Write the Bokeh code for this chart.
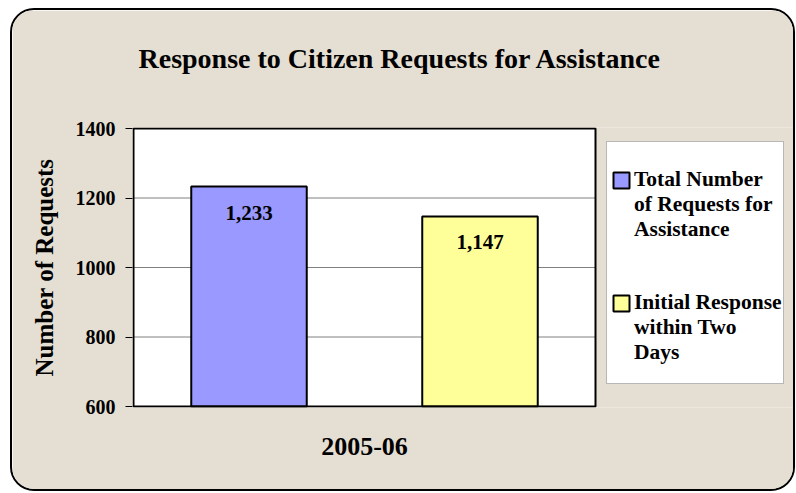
from bokeh.plotting import figure
from bokeh.models import Legend, LegendItem, FixedTicker, Range1d, LinearAxis
from bokeh.core.properties import value
from bokeh.embed import file_html
from bokeh.resources import INLINE

# ---- data ----
title_text = "Response to Citizen Requests for Assistance"
series_names = ["Total Number of Requests for Assistance", "Initial Response within Two Days"]
legend_lines = [["Total Number", "of Requests for", "Assistance"],
                ["Initial Response", "within Two", "Days"]]
values = [1233, 1147]
value_labels = ["1,233", "1,147"]
colors = ["#9999FF", "#FFFF99"]
category = "2005-06"
y_ticks = [600, 800, 1000, 1200, 1400]
y_label = "Number of Requests"

FONT = "Liberation Serif"
W, H = 785, 483
ML, MT, MB = 120, 117, 86          # canvas px around the frame
PLOT_W = 462                        # px width of the white plot area
n = len(values)
x_end_plot = 2 * n
px_per_x = PLOT_W / x_end_plot
pad_px = 1.0
frame_w = W - ML
x_start = -pad_px / px_per_x
x_end = x_start + frame_w / px_per_x
frame_h = H - MT - MB
px_per_y = (frame_h - 2 * pad_px) / (y_ticks[-1] - y_ticks[0])
y_pad = pad_px / px_per_y

p = figure(width=W, height=H, output_backend="svg", toolbar_location=None, title=title_text,
           x_range=Range1d(x_start, x_end),
           y_range=Range1d(y_ticks[0] - y_pad, y_ticks[-1] + y_pad),
           min_border_left=ML, min_border_right=0, min_border_top=MT, min_border_bottom=MB)

BG = "#E5DED2"
p.border_fill_color = BG
p.background_fill_color = BG
p.outline_line_color = None
p.styles = {"border": "2px solid #000", "border-radius": "24px", "overflow": "hidden",
            "margin-left": "10px", "margin-top": "8px"}

# title (outermost above panel) + an invisible axis that acts as a spacer below it
p.title.align = "left"
p.title.offset = 6
p.title.standoff = 0
p.title.text_font = FONT
p.title.text_font_style = "bold"
p.title.text_font_size = "28px"
p.title.text_color = "black"

spacer_axis = LinearAxis(ticker=FixedTicker(ticks=[n]), axis_line_color=None,
                         major_tick_out=54, major_tick_in=0,
                         major_tick_line_color=None, minor_tick_line_color=None,
                         major_label_text_alpha=0)
p.add_layout(spacer_axis, "above")

# plot area + grid
p.quad(left=[0], right=[x_end_plot], bottom=[y_ticks[0]], top=[y_ticks[-1]],
       fill_color="white", line_color=None)
grid_vals = y_ticks[1:-1]
p.segment(x0=[0] * len(grid_vals), x1=[x_end_plot] * len(grid_vals),
          y0=grid_vals, y1=grid_vals, line_color="#808080", line_width=1)

# bars
xs = [1 + 2 * i for i in range(n)]
bars = []
for i, v in enumerate(values):
    r = p.vbar(x=[xs[i]], top=[v], bottom=y_ticks[0], width=1,
               fill_color=colors[i], line_color="black", line_width=2)
    bars.append(r)

p.quad(left=[0], right=[x_end_plot], bottom=[y_ticks[0]], top=[y_ticks[-1]],
       fill_color=None, line_color="black", line_width=2)

dummy = p.vbar(x=[], top=[], width=1, fill_alpha=0, line_alpha=0)

p.text(x=xs, y=values, text=value_labels, y_offset=26,
       text_align="center", text_baseline="middle",
       text_font=value(FONT), text_font_style="bold", text_font_size="21px",
       text_color="black")

# bottom category axis
xa = p.below[0]
xa.ticker = FixedTicker(ticks=[n])
xa.major_label_overrides = {n: category}
xa.major_tick_line_color = None
xa.minor_tick_line_color = None
xa.axis_line_color = None
xa.major_label_standoff = 24
xa.major_label_text_font = FONT
xa.major_label_text_font_style = "bold"
xa.major_label_text_font_size = "26px"
xa.major_label_text_color = "black"
p.xgrid.visible = False
p.ygrid.visible = False

p.yaxis.ticker = FixedTicker(ticks=y_ticks)
p.yaxis.major_tick_out = 7
p.yaxis.major_tick_in = 0
p.yaxis.major_tick_line_color = "black"
p.yaxis.minor_tick_line_color = None
p.yaxis.axis_line_color = None
p.yaxis.major_label_standoff = 10
p.yaxis.major_label_text_font = FONT
p.yaxis.major_label_text_font_style = "bold"
p.yaxis.major_label_text_font_size = "20px"
p.yaxis.major_label_text_color = "black"
p.yaxis.axis_label = y_label
p.yaxis.axis_label_standoff = 15
p.yaxis.axis_label_text_font = FONT
p.yaxis.axis_label_text_font_style = "bold"
p.yaxis.axis_label_text_font_size = "25px"
p.yaxis.axis_label_text_color = "black"

# legend box (background only)
box = Legend(items=[LegendItem(label=" ", renderers=[dummy])],
             location=(474, 23), padding=0, margin=0,
             glyph_width=10, glyph_height=10, label_standoff=6,
             label_width=160, label_height=241,
             background_fill_color="white", background_fill_alpha=1,
             border_line_color="#707070", border_line_width=1,
             label_text_alpha=0)
p.add_layout(box)

# legend entries
items = []
for i, lines in enumerate(legend_lines):
    if i > 0:
        items.append(LegendItem(label=" ", renderers=[dummy]))
        items.append(LegendItem(label=" ", renderers=[dummy]))
    for j, line in enumerate(lines):
        items.append(LegendItem(label=line, renderers=[bars[i] if j == 0 else dummy]))

leg = Legend(items=items, location=(479, 42), padding=0, margin=0, spacing=0,
             glyph_width=20, glyph_height=20, label_standoff=3, label_height=24,
             background_fill_alpha=0, border_line_alpha=0,
             label_text_font=FONT, label_text_font_style="bold",
             label_text_font_size="21.5px", label_text_color="black")
p.add_layout(leg)

open("out.html", "w").write(file_html(p, INLINE))
